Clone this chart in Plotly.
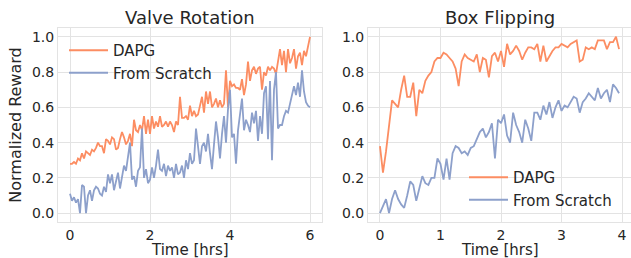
import numpy as np
import plotly.graph_objects as go

# ---------------- data ----------------
valve_dapg = [0.28, 0.28, 0.29, 0.28, 0.31, 0.30, 0.34, 0.31, 0.35, 0.34,
              0.33, 0.36, 0.35, 0.37, 0.40, 0.38, 0.38, 0.34, 0.42, 0.41,
              0.39, 0.43, 0.42, 0.36, 0.37, 0.42, 0.46, 0.43, 0.39, 0.41,
              0.45, 0.38, 0.53, 0.47, 0.46, 0.50, 0.47, 0.55, 0.45, 0.53,
              0.45, 0.55, 0.48, 0.52, 0.49, 0.55, 0.49, 0.50, 0.52, 0.49,
              0.52, 0.50, 0.46, 0.52, 0.50, 0.66, 0.54, 0.54, 0.55, 0.53,
              0.61, 0.55, 0.58, 0.55, 0.56, 0.61, 0.66, 0.57, 0.69, 0.62,
              0.69, 0.60, 0.62, 0.65, 0.60, 0.64, 0.60, 0.62, 0.81, 0.60,
              0.75, 0.72, 0.73, 0.71, 0.71, 0.70, 0.76, 0.67, 0.73, 0.86,
              0.75, 0.81, 0.83, 0.79, 0.82, 0.83, 0.70, 0.80, 0.78, 0.83,
              0.81, 0.83, 0.82, 0.79, 0.86, 0.93, 0.84, 0.92, 0.80, 0.93,
              0.85, 0.88, 0.93, 0.82, 0.89, 0.91, 0.84, 0.92, 0.89, 0.94,
              1.00]
valve_scratch = [0.11, 0.07, 0.09, 0.06, 0.08, 0.00, 0.16, 0.15, 0.00, 0.10,
                 0.13, 0.07, 0.13, 0.15, 0.14, 0.11, 0.10, 0.15, 0.12, 0.22,
                 0.17, 0.22, 0.13, 0.18, 0.23, 0.14, 0.22, 0.27, 0.24, 0.32,
                 0.40, 0.19, 0.21, 0.15, 0.24, 0.26, 0.48, 0.20, 0.25, 0.17,
                 0.19, 0.26, 0.20, 0.27, 0.36, 0.25, 0.24, 0.28, 0.21, 0.27,
                 0.24, 0.26, 0.20, 0.28, 0.22, 0.23, 0.27, 0.20, 0.30, 0.25,
                 0.34, 0.28, 0.30, 0.48, 0.36, 0.28, 0.38, 0.40, 0.35, 0.45,
                 0.34, 0.25, 0.39, 0.52, 0.43, 0.31, 0.45, 0.55, 0.40, 0.59,
                 0.70, 0.43, 0.45, 0.28, 0.47, 0.55, 0.65, 0.47, 0.53, 0.50,
                 0.46, 0.57, 0.51, 0.58, 0.41, 0.55, 0.45, 0.68, 0.72, 0.42,
                 0.75, 0.30, 0.70, 0.80, 0.48, 0.50, 0.50, 0.55, 0.58, 0.57,
                 0.62, 0.66, 0.72, 0.67, 0.74, 0.66, 0.81, 0.69, 0.63, 0.61,
                 0.60]
box_dapg = [0.38, 0.23, 0.35, 0.50, 0.64, 0.62, 0.60, 0.70, 0.78, 0.66,
            0.66, 0.74, 0.55, 0.70, 0.68, 0.75, 0.78, 0.80, 0.86, 0.88,
            0.88, 0.91, 0.90, 0.88, 0.86, 0.82, 0.72, 0.86, 0.90, 0.88,
            0.87, 0.86, 0.90, 0.80, 0.88, 0.87, 0.77, 0.89, 0.91, 0.86,
            0.92, 0.83, 0.96, 0.90, 0.92, 0.95, 0.92, 0.87, 0.91, 0.94,
            0.94, 0.93, 0.96, 0.86, 0.95, 0.86, 0.89, 0.92, 0.94, 0.94,
            0.96, 0.95, 0.94, 0.96, 0.97, 0.98, 0.86, 0.87, 0.94, 0.93,
            0.94, 0.93, 0.98, 0.98, 0.98, 0.93, 0.97, 0.97, 1.00, 0.93]
box_scratch = [0.00, 0.04, 0.08, 0.00, 0.08, 0.13, 0.08, 0.05, 0.03, 0.10,
               0.18, 0.16, 0.07, 0.14, 0.21, 0.17, 0.16, 0.20, 0.20, 0.31,
               0.28, 0.19, 0.31, 0.19, 0.34, 0.38, 0.37, 0.34, 0.35, 0.33,
               0.37, 0.38, 0.42, 0.46, 0.48, 0.43, 0.46, 0.51, 0.31, 0.53,
               0.51, 0.56, 0.44, 0.40, 0.57, 0.50, 0.46, 0.40, 0.53, 0.48,
               0.41, 0.57, 0.57, 0.53, 0.61, 0.56, 0.63, 0.54, 0.60, 0.64,
               0.58, 0.61, 0.60, 0.63, 0.66, 0.65, 0.57, 0.63, 0.65, 0.68,
               0.66, 0.64, 0.71, 0.65, 0.68, 0.70, 0.63, 0.73, 0.71, 0.68]
valve_hours = 6.0
box_hours = 3.95
titles = ["Valve Rotation", "Box Flipping"]
x_title = "Time [hrs]"
y_title = "Normalized Reward"
series_names = ["DAPG", "From Scratch"]
y_ticks = [0.0, 0.2, 0.4, 0.6, 0.8, 1.0]

# ---------------- style ----------------
C_DAPG = "#FC8D62"
C_SCR = "#8DA0CB"
GRID = "#E3E3E3"
FONT = "DejaVu Sans"
TXT = "#262626"

t_valve = np.linspace(0, valve_hours, len(valve_dapg))
t_box = np.linspace(0, box_hours, len(box_dapg))

fig = go.Figure()
lw = 1.8
fig.add_trace(go.Scatter(x=t_valve, y=valve_dapg, mode="lines", name=series_names[0],
                         line=dict(color=C_DAPG, width=lw), xaxis="x", yaxis="y", legend="legend"))
fig.add_trace(go.Scatter(x=t_valve, y=valve_scratch, mode="lines", name=series_names[1],
                         line=dict(color=C_SCR, width=lw), xaxis="x", yaxis="y", legend="legend"))
fig.add_trace(go.Scatter(x=t_box, y=box_dapg, mode="lines", name=series_names[0],
                         line=dict(color=C_DAPG, width=lw), xaxis="x2", yaxis="y2", legend="legend2"))
fig.add_trace(go.Scatter(x=t_box, y=box_scratch, mode="lines", name=series_names[1],
                         line=dict(color=C_SCR, width=lw), xaxis="x2", yaxis="y2", legend="legend2"))

W, H = 631, 258
ydom = [1 - 222 / H, 1 - 28 / H]
axis_common = dict(showgrid=True, gridcolor=GRID, gridwidth=1, zeroline=False,
                   showline=True, linecolor=GRID, linewidth=1, mirror=True,
                   automargin=False,
                   ticks="", tickfont=dict(family=FONT, size=14, color=TXT))
title_font = dict(size=16, family=FONT, color=TXT)
xt_font = dict(size=15, family=FONT, color=TXT)

fig.update_layout(
    width=W, height=H,
    margin=dict(l=0, r=0, t=0, b=0, pad=0),
    paper_bgcolor="white", plot_bgcolor="white",
    font=dict(family=FONT, color=TXT),
    xaxis=dict(domain=[58 / W, 322 / W], range=[-0.3, 6.3], tickvals=[0, 2, 4, 6],
               anchor="y", **axis_common),
    yaxis=dict(domain=ydom, range=[-0.05, 1.05], tickvals=y_ticks, tickformat=".1f",
               title=dict(text=y_title, font=title_font, standoff=6),
               anchor="x", **axis_common),
    xaxis2=dict(domain=[368 / W, 1.0], range=[-0.1975, 4.1475], tickvals=[0, 1, 2, 3, 4],
                anchor="y2", **axis_common),
    yaxis2=dict(domain=ydom, range=[-0.05, 1.05], tickvals=y_ticks, tickformat=".1f",
                anchor="x2", **axis_common),
    legend=dict(x=64 / W, y=1 - 34 / H, xanchor="left", yanchor="top",
                bgcolor="rgba(255,255,255,0)", font=dict(family=FONT, size=15, color=TXT),
                tracegroupgap=0, itemwidth=39),
    legend2=dict(x=464 / W, y=1 - 161 / H, xanchor="left", yanchor="top",
                 bgcolor="rgba(255,255,255,0)", font=dict(family=FONT, size=15, color=TXT),
                 tracegroupgap=0, itemwidth=39),
    annotations=[
        dict(text=titles[0], x=(58 + 322) / 2 / W, y=1 - 17 / H, xref="paper", yref="paper",
             showarrow=False, font=dict(family=FONT, size=18, color=TXT), xanchor="center", yanchor="middle"),
        dict(text=titles[1], x=(368 + 631) / 2 / W, y=1 - 17 / H, xref="paper", yref="paper",
             showarrow=False, font=dict(family=FONT, size=18, color=TXT), xanchor="center", yanchor="middle"),
        dict(text=x_title, x=(58 + 322) / 2 / W, y=1 - 249.5 / H, xref="paper", yref="paper",
             showarrow=False, font=xt_font, xanchor="center", yanchor="middle", borderpad=0),
        dict(text=x_title, x=(368 + 631) / 2 / W, y=1 - 249.5 / H, xref="paper", yref="paper",
             showarrow=False, font=xt_font, xanchor="center", yanchor="middle", borderpad=0),
    ],
)

fig.write_html("out.html", config={"displayModeBar": False},
               post_script="document.body.style.margin='0px';document.body.style.padding='0px';")
